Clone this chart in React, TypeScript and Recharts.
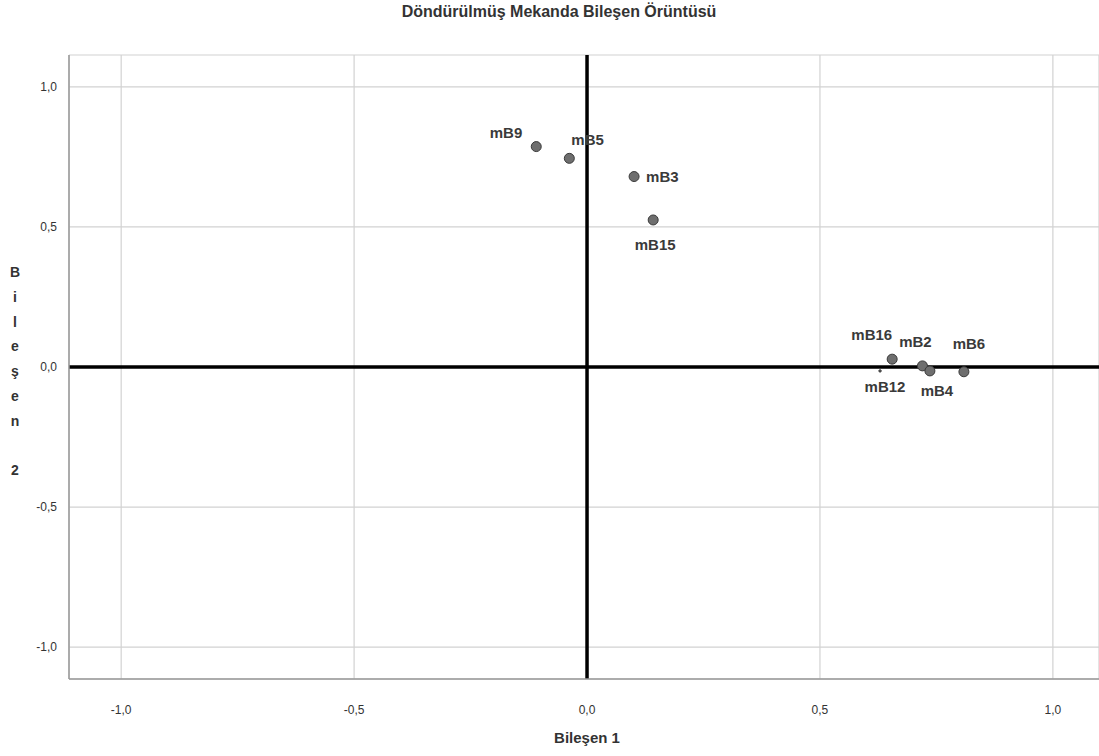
import React from 'react';
import {
    ScatterChart, Scatter, XAxis, YAxis, CartesianGrid, ReferenceLine
} from 'recharts';

const names = ['mB9', 'mB5', 'mB3', 'mB15', 'mB16', 'mB2', 'mB4', 'mB6', 'mB12'];
const comp1 = [-0.109, -0.038, 0.101, 0.142, 0.655, 0.720, 0.736, 0.809, 0.629];
const comp2 = [0.787, 0.745, 0.680, 0.525, 0.028, 0.004, -0.014, -0.017, -0.014];
const ticks = [-1, -0.5, 0, 0.5, 1];

// label placement around each dot: [dx, dy, anchor]
const labelPos: Record<string, [number, number, string]> = {
    mB9: [-14, -9, 'end'],
    mB5: [2, -13, 'start'],
    mB3: [12, 5, 'start'],
    mB15: [2, 30, 'middle'],
    mB16: [0, -19, 'end'],
    mB2: [-7, -19, 'middle'],
    mB4: [7, 25, 'middle'],
    mB6: [5, -23, 'middle'],
    mB12: [5, 21, 'middle'],
};

const data = names.map((name, i) => ({ name, x: comp1[i], y: comp2[i] }));

const fmt = (v: number) => v.toFixed(1).replace('.', ',');

const FONT = '"Liberation Sans", Arial, sans-serif';

const PointShape = (props: any) => {
    const { cx, cy, payload } = props;
    const [dx, dy, anchor] = labelPos[payload.name] || [8, 4, 'start'];
    const hidden = payload.name === 'mB12';
    return (
        <g>
            <circle cx={cx} cy={cy} r={hidden ? 1.2 : 5} fill="#6e6e6e" stroke="#3a3a3a" strokeWidth={1} />
            <text x={cx + dx} y={cy + dy} textAnchor={anchor as any} fontFamily={FONT}
                fontWeight="bold" fontSize={15} fill="#3a3a3a">{payload.name}</text>
        </g>
    );
};

const yLetters = ['B', 'i', 'l', 'e', 'ş', 'e', 'n', '', '2'];

export default function App() {
    return (
        <div style={{ position: 'absolute', left: 0, top: 0, width: 1099, height: 756, background: '#fff', fontFamily: FONT }}>
            <div style={{ position: 'absolute', left: 0, width: 1118, top: 3, textAlign: 'center', fontSize: 16, fontWeight: 'bold', color: '#333' }}>
                Döndürülmüş Mekanda Bileşen Örüntüsü
            </div>
            <div style={{ position: 'absolute', left: 69, width: 1036, top: 729, textAlign: 'center', fontSize: 15, fontWeight: 'bold', color: '#333' }}>
                Bileşen 1
            </div>
            <div style={{ position: 'absolute', left: 5, width: 20, top: 260, textAlign: 'center', fontSize: 14, fontWeight: 'bold', color: '#333' }}>
                {yLetters.map((l, i) => (
                    <div key={i} style={{ height: 24.8, lineHeight: '24.8px' }}>{l || '\u00a0'}</div>
                ))}
            </div>
            <ScatterChart width={1099} height={756} margin={{ top: 55, right: 0, bottom: 47, left: 0 }}>
                <CartesianGrid stroke="#d2d2d2" strokeWidth={1.2} />
                <XAxis type="number" dataKey="x" domain={[-1.112, 1.099]} ticks={ticks} tickFormatter={fmt}
                    allowDataOverflow height={30} stroke="#999" strokeWidth={1.5} tickLine={false}
                    tick={{ fill: '#333', fontSize: 12, fontFamily: FONT }} tickMargin={20} />
                <YAxis type="number" dataKey="y" domain={[-1.114, 1.114]} ticks={ticks} tickFormatter={fmt}
                    allowDataOverflow width={69} stroke="#999" strokeWidth={1.5} tickLine={false}
                    tick={{ fill: '#333', fontSize: 12, fontFamily: FONT }} tickMargin={6} />
                <ReferenceLine x={0} stroke="#000" strokeWidth={3.5} />
                <ReferenceLine y={0} stroke="#000" strokeWidth={3.5} />
                <Scatter data={data} shape={PointShape} isAnimationActive={false} />
            </ScatterChart>
        </div>
    );
}
